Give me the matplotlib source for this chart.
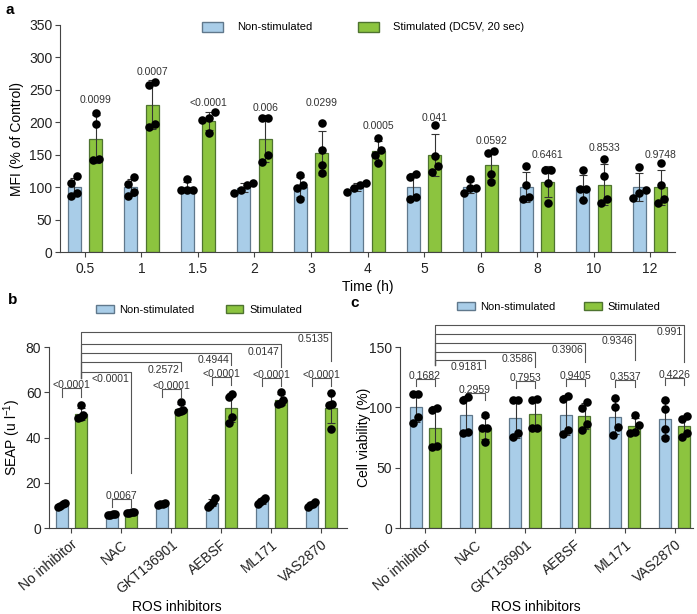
import numpy as np
import matplotlib
matplotlib.use('Agg')
import matplotlib.pyplot as plt
from matplotlib.patches import Patch

plt.rcParams['font.family'] = ['Liberation Sans', 'DejaVu Sans']
plt.rcParams['mathtext.fontset'] = 'custom'
plt.rcParams['mathtext.rm'] = 'Liberation Sans'
plt.rcParams['axes.edgecolor'] = '#444444'
plt.rcParams['xtick.color'] = '#444444'
plt.rcParams['ytick.color'] = '#444444'
plt.rcParams['xtick.labelcolor'] = '#222222'
plt.rcParams['ytick.labelcolor'] = '#222222'

# ---- panel a: MFI over time ----
times = ['0.5', '1', '1.5', '2', '3', '4', '5', '6', '8', '10', '12']
a_non = [[106, 117, 86, 91], [115, 105, 86, 92], [112, 96, 96, 96], [106, 103, 96, 91],
         [119, 103, 98, 81], [106, 103, 98, 93], [121, 116, 85, 81], [113, 99, 98, 91],
         [132, 103, 85, 81], [126, 97, 97, 80], [131, 96, 91, 83]]
a_stim = [[215, 197, 142, 143], [257, 262, 198, 192], [216, 206, 203, 184], [206, 206, 139, 149],
          [199, 158, 134, 122], [176, 158, 150, 137], [196, 148, 132, 124], [155, 153, 121, 108],
          [126, 126, 106, 75], [143, 117, 81, 75], [137, 103, 82, 76]]
a_p = ['0.0099', '0.0007', '<0.0001', '0.006', '0.0299', '0.0005', '0.041', '0.0592',
       '0.6461', '0.8533', '0.9748']
a_p_y = [234, 278, 229, 222, 229, 194, 207, 171, 150, 160, 150]

# ---- panel b: SEAP with ROS inhibitors ----
inhibitors = ['No inhibitor', 'NAC', 'GKT136901', 'AEBSF', 'ML171', 'VAS2870']
b_non = [[10.5, 11, 9.8, 9.5], [6.0, 6.2, 5.8, 5.6], [10.5, 11, 10.3, 10.8],
         [13.2, 11.7, 10.3, 9.5], [13.2, 12.5, 11.3, 10.7], [11.4, 10.7, 10, 9.5]]
b_stim = [[54.5, 50, 49, 48.5], [6.8, 7.0, 6.6, 7.2], [55.8, 51.8, 51.4, 52.1],
          [59.2, 58, 49.2, 46.5], [60.2, 56.5, 55, 55.3], [59.7, 54.8, 54.3, 43.6]]
b_within_p = ['<0.0001', '0.0067', '<0.0001', '<0.0001', '<0.0001', '<0.0001']
b_within_y = [61.7, 12.8, 61.3, 66.6, 66.2, 66.2]
b_vs_p = ['<0.0001', '0.2572', '0.4944', '0.0147', '0.5135']
b_vs_y = [69.1, 73.2, 77.5, 81.3, 86.8]
b_vs_end = [24.3, 69.5, 72.0, 71.3, 74.0]

# ---- panel c: cell viability ----
c_non = [[110.8, 110.8, 92.3, 86.8], [108.8, 106, 79.7, 78.9], [106, 106, 78.9, 75.6],
         [109.4, 106.6, 81, 78.3], [108, 100.5, 83.5, 77.2], [106, 99, 82, 75]]
c_stim = [[99.2, 97.8, 68.2, 67.4], [93.8, 82.6, 82.6, 71.5], [106, 106.6, 82.6, 82.6],
          [104.5, 99.7, 86.5, 81], [93.3, 85.5, 79.7, 78.9], [93, 90, 79, 75.6]]
c_within_p = ['0.1682', '0.2959', '0.7953', '0.9405', '0.3537', '0.4226']
c_within_y = [123.2, 112, 121.8, 123.2, 122.6, 124]
c_vs_p = ['0.9181', '0.3586', '0.3906', '0.9346', '0.991']
c_vs_y = [139.2, 146.1, 153.3, 160.8, 168.2]
c_vs_end = [132.3, 133.7, 137.8, 139.0, 137.8]

blue = '#a9cde8'
blue_edge = '#60788c'
green = '#8cc43f'
green_edge = '#4e7330'
line_c = '#555555'
text_c = '#333333'

W, H = 697, 614
fig = plt.figure(figsize=(W / 100, H / 100), dpi=100)


def px_axes(left, right, bottom_px, top_px):
    return fig.add_axes([left / W, 1 - bottom_px / H, (right - left) / W, (bottom_px - top_px) / H])


def swarm(vals, thr, step):
    vals = np.asarray(vals, dtype=float)
    order = np.argsort(vals)
    offs = np.zeros(len(vals))
    clusters = [[order[0]]]
    for i in order[1:]:
        if vals[i] - vals[clusters[-1][-1]] < thr:
            clusters[-1].append(i)
        else:
            clusters.append([i])
    for cl in clusters:
        n = len(cl)
        for k, idx in enumerate(cl):
            offs[idx] = (k - (n - 1) / 2) * step
    return offs


def draw_groups(ax, non, stim, off, width, thr, step):
    x = np.arange(len(non))
    for vals, dx, fc, ec in [(non, -off, blue, blue_edge), (stim, off, green, green_edge)]:
        means = np.array([np.mean(v) for v in vals])
        sds = np.array([np.std(v, ddof=1) for v in vals])
        ax.bar(x + dx, means, width=width, color=fc, edgecolor=ec, linewidth=0.9, zorder=2)
        ax.errorbar(x + dx, means, yerr=sds, fmt='none', ecolor='#333333', elinewidth=0.8,
                    capsize=3, capthick=0.8, zorder=3)
        for i, v in enumerate(vals):
            ax.scatter(x[i] + dx + swarm(v, thr, step), v, s=38, color='black', zorder=4,
                       linewidths=0)
    return x


def style(ax):
    for s in ['top', 'right']:
        ax.spines[s].set_visible(False)
    ax.tick_params(axis='both', labelsize=10, length=3.5, width=0.8)
    ax.tick_params(axis='y', pad=2)


def rotated_labels(ax, labels):
    ax.set_xticklabels(labels, rotation=40, ha='right', va='top', rotation_mode='anchor')


# ---- a ----
ax = px_axes(60, 675, 252, 25)
off_a = 0.19
x = draw_groups(ax, a_non, a_stim, off_a, 0.23, 12, 0.11)
for i, p in enumerate(a_p):
    ax.text(x[i] + off_a, a_p_y[i], p, ha='center', va='center', fontsize=7.5, color=text_c)
ax.set_xlim(-0.44, 10.44)
ax.set_ylim(0, 350)
ax.set_yticks(np.arange(0, 351, 50))
ax.set_xticks(x)
ax.set_xticklabels(times)
ax.set_xlabel('Time (h)', fontsize=10, labelpad=3)
ax.set_ylabel('MFI (% of Control)', fontsize=10)
ax.yaxis.set_label_coords((24 - 60) / 615, 0.5)
style(ax)
fig.legend(handles=[Patch(facecolor=blue, edgecolor=blue_edge, label='Non-stimulated'),
                    Patch(facecolor=green, edgecolor=green_edge, label='Stimulated (DC5V, 20 sec)')],
           loc='center left', bbox_to_anchor=(202 / W, 1 - 27 / H), ncol=2, frameon=False,
           fontsize=8, handlelength=1.9, handleheight=1.0, handletextpad=1.25,
           columnspacing=4.1, borderpad=0, borderaxespad=0)


def brackets(ax, x, off, within_p, within_y, leg, vs_p, vs_y, vs_end, left_end):
    for i, p in enumerate(within_p):
        x0, x1 = x[i] - off, x[i] + off
        y = within_y[i]
        ax.plot([x0, x0, x1, x1], [y - leg, y, y, y - leg], color=line_c, lw=0.8, zorder=1)
        ax.text(x[i], y, p, ha='center', va='baseline', fontsize=7.5, color=text_c)
    xs = x[0] + off
    for j, p in enumerate(vs_p):
        xe = x[j + 1] + off
        y = vs_y[j]
        ax.plot([xs, xs, xe, xe], [left_end, y, y, vs_end[j]], color=line_c, lw=0.8, zorder=1)
        ax.text(xe - 0.03, y - 0.3 * leg, p, ha='right', va='top', fontsize=7.5, color=text_c)


# ---- b ----
ax = px_axes(49, 347, 528, 324.4)
off_b = 0.19
x = draw_groups(ax, b_non, b_stim, off_b, 0.24, 3.5, 0.045)
brackets(ax, x, off_b, b_within_p, b_within_y, 3.6, b_vs_p, b_vs_y, b_vs_end, 66.3)
ax.set_xlim(-0.44, 5.52)
ax.set_ylim(0, 90)
ax.spines['left'].set_bounds(0, 80)
ax.set_yticks(np.arange(0, 81, 20))
ax.set_xticks(x)
rotated_labels(ax, inhibitors)
ax.set_ylabel('SEAP (u l$^{-1}$)', fontsize=10)
ax.yaxis.set_label_coords((23 - 49) / 298, 0.5 * 80 / 90)
ax.set_xlabel('ROS inhibitors', fontsize=10)
ax.xaxis.set_label_coords(0.43, -(600 - 528) / 203.6)
style(ax)
fig.legend(handles=[Patch(facecolor=blue, edgecolor=blue_edge, label='Non-stimulated'),
                    Patch(facecolor=green, edgecolor=green_edge, label='Stimulated')],
           loc='center left', bbox_to_anchor=(96 / W, 1 - 310 / H), ncol=2, frameon=False,
           fontsize=8, handlelength=1.6, handleheight=0.8, handletextpad=0.5,
           columnspacing=2.8, borderpad=0, borderaxespad=0)

# ---- c ----
ax = px_axes(400, 693, 528, 323)
off_c = 0.19
x = draw_groups(ax, c_non, c_stim, off_c, 0.24, 6.6, 0.1)
brackets(ax, x, off_c, c_within_p, c_within_y, 5.5, c_vs_p, c_vs_y, c_vs_end, 135)
ax.set_xlim(-0.5, 5.36)
ax.set_ylim(0, 170)
ax.spines['left'].set_bounds(0, 150)
ax.set_yticks([0, 50, 100, 150])
ax.set_xticks(x)
rotated_labels(ax, inhibitors)
ax.set_ylabel('Cell viability (%)', fontsize=10)
ax.yaxis.set_label_coords((371 - 400) / 293, 0.5 * 150 / 170)
ax.set_xlabel('ROS inhibitors', fontsize=10)
ax.xaxis.set_label_coords(0.464, -(600 - 528) / 205)
style(ax)
fig.legend(handles=[Patch(facecolor=blue, edgecolor=blue_edge, label='Non-stimulated'),
                    Patch(facecolor=green, edgecolor=green_edge, label='Stimulated')],
           loc='center left', bbox_to_anchor=(457 / W, 1 - 307 / H), ncol=2, frameon=False,
           fontsize=8, handlelength=1.6, handleheight=0.8, handletextpad=0.5,
           columnspacing=2.6, borderpad=0, borderaxespad=0)

fig.text(5 / W, 1 - 10 / H, 'a', fontsize=11, fontweight='bold', va='center')
fig.text(8 / W, 1 - 300 / H, 'b', fontsize=11, fontweight='bold', va='center')
fig.text(350 / W, 1 - 303 / H, 'c', fontsize=11, fontweight='bold', va='center')

fig.savefig('out.png', dpi=100)
